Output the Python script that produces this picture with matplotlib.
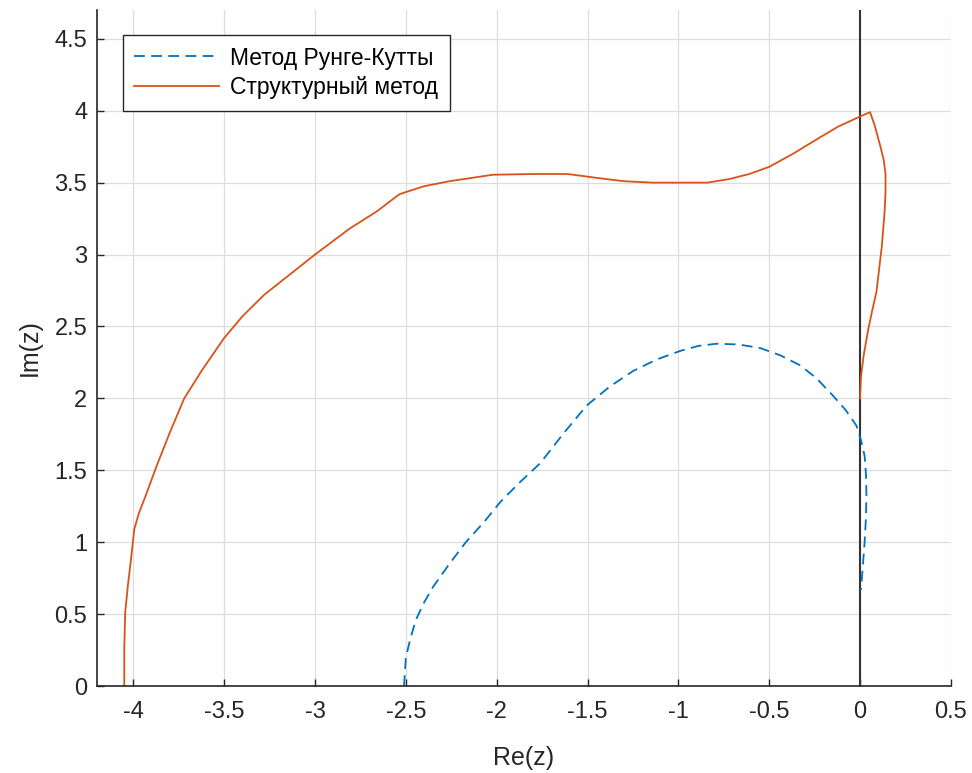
import matplotlib.pyplot as plt

plt.rcParams['font.family'] = ['Liberation Sans', 'DejaVu Sans']

# Метод Рунге-Кутты (dashed)
rk_re = [-2.51, -2.505, -2.50, -2.475, -2.445, -2.40, -2.35, -2.26, -2.17, -2.07, -1.98,
         -1.87, -1.76, -1.63, -1.505, -1.38, -1.25, -1.12, -0.99, -0.89, -0.79, -0.67,
         -0.55, -0.44, -0.33, -0.24, -0.15, -0.08, -0.02, 0.005, 0.025, 0.033, 0.035,
         0.032, 0.025, 0.015, 0.005]
rk_im = [0.0, 0.1, 0.2, 0.33, 0.46, 0.58, 0.69, 0.85, 1.0, 1.14, 1.28,
         1.42, 1.55, 1.76, 1.95, 2.08, 2.19, 2.27, 2.33, 2.365, 2.38, 2.375,
         2.35, 2.30, 2.23, 2.14, 2.02, 1.92, 1.81, 1.71, 1.60, 1.46, 1.32,
         1.16, 1.0, 0.83, 0.67]

# Структурный метод (solid)
st_re = [-4.05, -4.05, -4.045, -4.03, -4.013, -3.995, -3.97, -3.93, -3.875, -3.80,
         -3.72, -3.62, -3.50, -3.40, -3.28, -3.14, -3.0, -2.81, -2.66, -2.535,
         -2.40, -2.26, -2.02, -1.80, -1.61, -1.43, -1.30, -1.14, -0.97, -0.84,
         -0.72, -0.61, -0.50, -0.37, -0.24, -0.12, 0.0, 0.055, 0.08, 0.11,
         0.13, 0.14, 0.14, 0.135, 0.12, 0.105, 0.09, 0.065, 0.045, 0.02, 0.005, 0.0]
st_im = [0.0, 0.25, 0.51, 0.70, 0.88, 1.09, 1.20, 1.33, 1.52, 1.76,
         2.0, 2.2, 2.42, 2.57, 2.72, 2.86, 3.0, 3.18, 3.30, 3.42,
         3.475, 3.51, 3.555, 3.56, 3.56, 3.53, 3.51, 3.50, 3.50, 3.50,
         3.525, 3.56, 3.61, 3.70, 3.80, 3.89, 3.96, 3.99, 3.90, 3.76,
         3.66, 3.56, 3.43, 3.30, 3.06, 2.90, 2.74, 2.60, 2.48, 2.30, 2.15, 2.0]

fig = plt.figure(figsize=(9.72, 7.73), dpi=100)
ax = fig.add_axes([0.0998, 0.1125, 0.8785, 0.8745])

ax.plot(rk_re, rk_im, '--', color='#0072BD', lw=1.3, dashes=(6, 3.5), label='Метод Рунге-Кутты')
ax.plot(st_re, st_im, '-', color='#D95319', lw=1.3, label='Структурный метод')
ax.axvline(0, color='#333333', lw=1.5, zorder=1)

ax.set_xlim(-4.2, 0.5)
ax.set_ylim(0, 4.7)
ax.set_xticks([-4, -3.5, -3, -2.5, -2, -1.5, -1, -0.5, 0, 0.5])
ax.set_xticklabels(['-4', '-3.5', '-3', '-2.5', '-2', '-1.5', '-1', '-0.5', '0', '0.5'])
ax.set_yticks([0, 0.5, 1, 1.5, 2, 2.5, 3, 3.5, 4, 4.5])
ax.set_yticklabels(['0', '0.5', '1', '1.5', '2', '2.5', '3', '3.5', '4', '4.5'])

ax.grid(True, color='#dddddd', lw=0.9)
ax.set_axisbelow(True)
for side in ['top', 'right']:
    ax.spines[side].set_visible(False)
for side in ['left', 'bottom']:
    ax.spines[side].set_color('#262626')
    ax.spines[side].set_linewidth(1.2)
ax.tick_params(direction='in', length=5, width=1, labelsize=17, colors='#262626')
ax.tick_params(axis='x', pad=11)
ax.tick_params(axis='y', pad=7)

ax.set_xlabel('Re(z)', fontsize=18, color='#262626', labelpad=16)
ax.set_ylabel('Im(z)', fontsize=18, color='#262626', labelpad=9.5)

leg = ax.legend(loc='upper left', bbox_to_anchor=(0.030, 0.963), borderaxespad=0,
                fontsize=16.5, frameon=True, fancybox=False, edgecolor='#262626',
                framealpha=1, handlelength=3.7, borderpad=0.5, labelspacing=0.3,
                handletextpad=0.5)
leg.get_frame().set_linewidth(1.0)

fig.savefig('out.png', dpi=100)
